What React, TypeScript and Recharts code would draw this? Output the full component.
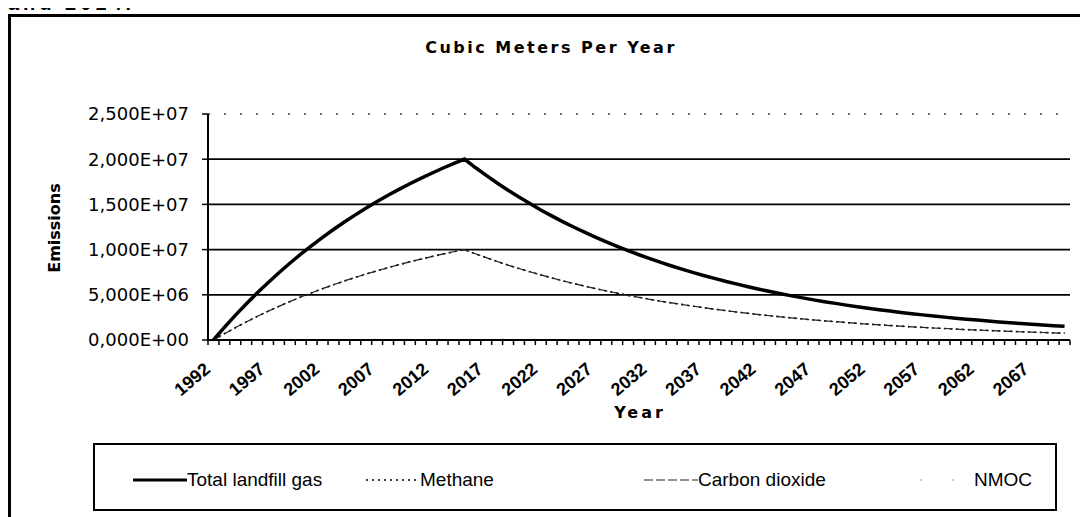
import React from 'react';
import { LineChart, Line, XAxis, YAxis, ReferenceLine, Legend } from 'recharts';

const years = [
  1992, 1993, 1994, 1995, 1996, 1997, 1998, 1999, 2000, 2001,
  2002, 2003, 2004, 2005, 2006, 2007, 2008, 2009, 2010, 2011,
  2012, 2013, 2014, 2015, 2016, 2017, 2018, 2019, 2020, 2021,
  2022, 2023, 2024, 2025, 2026, 2027, 2028, 2029, 2030, 2031,
  2032, 2033, 2034, 2035, 2036, 2037, 2038, 2039, 2040, 2041,
  2042, 2043, 2044, 2045, 2046, 2047, 2048, 2049, 2050, 2051,
  2052, 2053, 2054, 2055, 2056, 2057, 2058, 2059, 2060, 2061,
  2062, 2063, 2064, 2065, 2066, 2067, 2068, 2069, 2070,
];

const xLabelYears = [1992, 1997, 2002, 2007, 2012, 2017, 2022, 2027, 2032, 2037, 2042, 2047, 2052, 2057, 2062, 2067];

const totalGas = [
  0, 1.39e6, 2.72e6, 3.98e6, 5.19e6, 6.34e6, 7.44e6, 8.49e6, 9.49e6, 1.044e7,
  1.136e7, 1.222e7, 1.305e7, 1.384e7, 1.46e7, 1.532e7, 1.601e7, 1.666e7, 1.729e7, 1.788e7,
  1.845e7, 1.9e7, 1.951e7, 2.001e7, 1.908e7, 1.821e7, 1.737e7, 1.657e7, 1.581e7, 1.509e7,
  1.439e7, 1.373e7, 1.31e7, 1.25e7, 1.193e7, 1.138e7, 1.086e7, 1.036e7, 9.88e6, 9.43e6,
  9.0e6, 8.58e6, 8.19e6, 7.81e6, 7.45e6, 7.11e6, 6.79e6, 6.47e6, 6.18e6, 5.89e6,
  5.62e6, 5.36e6, 5.12e6, 4.88e6, 4.66e6, 4.44e6, 4.24e6, 4.05e6, 3.86e6, 3.68e6,
  3.51e6, 3.35e6, 3.2e6, 3.05e6, 2.91e6, 2.78e6, 2.65e6, 2.53e6, 2.41e6, 2.3e6,
  2.2e6, 2.1e6, 2.0e6, 1.91e6, 1.82e6, 1.74e6, 1.66e6, 1.58e6, 1.51e6,
];

const methane = [
  0, 6.95e5, 1.36e6, 1.99e6, 2.6e6, 3.17e6, 3.72e6, 4.25e6, 4.75e6, 5.22e6,
  5.68e6, 6.11e6, 6.53e6, 6.92e6, 7.3e6, 7.66e6, 8.0e6, 8.33e6, 8.65e6, 8.94e6,
  9.23e6, 9.5e6, 9.76e6, 1.0e7, 9.54e6, 9.11e6, 8.69e6, 8.29e6, 7.91e6, 7.55e6,
  7.2e6, 6.87e6, 6.55e6, 6.25e6, 5.97e6, 5.69e6, 5.43e6, 5.18e6, 4.94e6, 4.72e6,
  4.5e6, 4.29e6, 4.1e6, 3.91e6, 3.73e6, 3.56e6, 3.4e6, 3.24e6, 3.09e6, 2.95e6,
  2.81e6, 2.68e6, 2.56e6, 2.44e6, 2.33e6, 2.22e6, 2.12e6, 2.03e6, 1.93e6, 1.84e6,
  1.76e6, 1.68e6, 1.6e6, 1.53e6, 1.46e6, 1.39e6, 1.33e6, 1.27e6, 1.21e6, 1.15e6,
  1.1e6, 1.05e6, 1.0e6, 9.6e5, 9.1e5, 8.7e5, 8.3e5, 7.9e5, 7.6e5,
];

const carbonDioxide = [
  0, 6.95e5, 1.36e6, 1.99e6, 2.6e6, 3.17e6, 3.72e6, 4.25e6, 4.75e6, 5.22e6,
  5.68e6, 6.11e6, 6.53e6, 6.92e6, 7.3e6, 7.66e6, 8.0e6, 8.33e6, 8.65e6, 8.94e6,
  9.23e6, 9.5e6, 9.76e6, 1.0e7, 9.54e6, 9.11e6, 8.69e6, 8.29e6, 7.91e6, 7.55e6,
  7.2e6, 6.87e6, 6.55e6, 6.25e6, 5.97e6, 5.69e6, 5.43e6, 5.18e6, 4.94e6, 4.72e6,
  4.5e6, 4.29e6, 4.1e6, 3.91e6, 3.73e6, 3.56e6, 3.4e6, 3.24e6, 3.09e6, 2.95e6,
  2.81e6, 2.68e6, 2.56e6, 2.44e6, 2.33e6, 2.22e6, 2.12e6, 2.03e6, 1.93e6, 1.84e6,
  1.76e6, 1.68e6, 1.6e6, 1.53e6, 1.46e6, 1.39e6, 1.33e6, 1.27e6, 1.21e6, 1.15e6,
  1.1e6, 1.05e6, 1.0e6, 9.6e5, 9.1e5, 8.7e5, 8.3e5, 7.9e5, 7.6e5,
];

const nmoc = [
  0, 5.6e3, 1.09e4, 1.59e4, 2.08e4, 2.54e4, 2.98e4, 3.4e4, 3.8e4, 4.18e4,
  4.54e4, 4.89e4, 5.22e4, 5.54e4, 5.84e4, 6.13e4, 6.4e4, 6.66e4, 6.91e4, 7.15e4,
  7.38e4, 7.6e4, 7.8e4, 8.0e4, 7.63e4, 7.28e4, 6.95e4, 6.63e4, 6.32e4, 6.04e4,
  5.76e4, 5.49e4, 5.24e4, 5.0e4, 4.77e4, 4.55e4, 4.34e4, 4.14e4, 3.95e4, 3.77e4,
  3.6e4, 3.43e4, 3.28e4, 3.12e4, 2.98e4, 2.84e4, 2.72e4, 2.59e4, 2.47e4, 2.36e4,
  2.25e4, 2.14e4, 2.05e4, 1.95e4, 1.86e4, 1.78e4, 1.7e4, 1.62e4, 1.54e4, 1.47e4,
  1.4e4, 1.34e4, 1.28e4, 1.22e4, 1.16e4, 1.11e4, 1.06e4, 1.01e4, 9.6e3, 9.2e3,
  8.8e3, 8.4e3, 8.0e3, 7.6e3, 7.3e3, 7.0e3, 6.6e3, 6.3e3, 6.0e3,
];

const yTicks = [0, 5e6, 1e7, 1.5e7, 2e7, 2.5e7];
const yTickLabels = ['0,000E+00', '5,000E+06', '1,000E+07', '1,500E+07', '2,000E+07', '2,500E+07'];

const seriesNames = ['Total landfill gas', 'Methane', 'Carbon dioxide', 'NMOC'];

const data = years.map((year, i) => ({
  year,
  total: totalGas[i],
  methane: methane[i],
  co2: carbonDioxide[i],
  nmoc: nmoc[i],
}));

const series = [
  { key: 'total', name: seriesNames[0], stroke: '#000', width: 3.5, dash: undefined as string | undefined },
  { key: 'methane', name: seriesNames[1], stroke: '#000', width: 1.6, dash: '2 4' },
  { key: 'co2', name: seriesNames[2], stroke: '#222', width: 1.2, dash: '9 3' },
  { key: 'nmoc', name: seriesNames[3], stroke: '#999', width: 1.2, dash: '2 30' },
];

const legendLefts = [40, 273, 551, 827];

const W = 1080;
const H = 509;
const HALF_STEP = 5.45;

const XTick = (props: any) => {
  const { x, y, payload } = props;
  const v = payload?.value;
  const isLast = v === years[years.length - 1];
  const lx = x - 2;
  const ly = y + 31;
  return (
    <g>
      <line x1={x - HALF_STEP} y1={y} x2={x - HALF_STEP} y2={y + 5} stroke="#000" strokeWidth={1.5} />
      {isLast && <line x1={x + HALF_STEP} y1={y} x2={x + HALF_STEP} y2={y + 5} stroke="#000" strokeWidth={1.5} />}
      {xLabelYears.includes(v) && (
        <text
          x={lx}
          y={ly}
          transform={`rotate(-40, ${lx}, ${ly})`}
          textAnchor="end"
          fontFamily='"Liberation Sans", Arial, sans-serif'
          fontWeight="bold"
          fontSize={18}
          fill="#000"
        >
          {v}
        </text>
      )}
    </g>
  );
};

const LegendBox = () => (
  <div
    style={{
      position: 'relative',
      width: 964,
      height: 68,
      boxSizing: 'border-box',
      border: '2px solid #000',
      background: '#fff',
      fontFamily: '"Liberation Sans", Arial, sans-serif',
      fontSize: 19,
      color: '#000',
    }}
  >
    {series.map((s, i) => (
      <div
        key={s.key}
        style={{
          position: 'absolute',
          left: legendLefts[i] - 2,
          top: 24,
          height: 22,
          display: 'flex',
          alignItems: 'center',
          whiteSpace: 'nowrap',
        }}
      >
        <svg width={54} height={10} style={{ display: 'block' }}>
          <line x1={0} y1={5} x2={54} y2={5} stroke={s.stroke} strokeWidth={s.key === 'total' ? 3 : s.width} strokeDasharray={s.dash} />
        </svg>
        <span>{s.name}</span>
      </div>
    ))}
  </div>
);

export default function App() {
  return (
    <div style={{ position: 'relative' }}>
      <div style={{ position: 'relative', width: W, height: H, overflow: 'hidden', background: '#fff' }}>
        <div
          style={{
            position: 'absolute',
            left: 0,
            top: 6,
            width: 1300,
            height: 700,
            borderLeft: '3px solid #000',
            borderTop: '3px solid #000',
          }}
        />
        <div
          style={{
            position: 'absolute',
            left: 543,
            top: 40,
            transform: 'translate(-50%, -50%)',
            fontFamily: '"DejaVu Sans", sans-serif',
            fontWeight: 'bold',
            fontSize: 16,
            letterSpacing: 2.5,
            whiteSpace: 'nowrap',
            lineHeight: '16px',
          }}
        >
          Cubic Meters Per Year
        </div>
        <div
          style={{
            position: 'absolute',
            left: 47,
            top: 220,
            transform: 'translate(-50%, -50%) rotate(-90deg)',
            fontFamily: '"DejaVu Sans", sans-serif',
            fontWeight: 'bold',
            fontSize: 16,
            whiteSpace: 'nowrap',
            lineHeight: '16px',
          }}
        >
          Emissions
        </div>
        <div
          style={{
            position: 'absolute',
            left: 632,
            top: 405,
            transform: 'translate(-50%, -50%)',
            fontFamily: '"DejaVu Sans", sans-serif',
            fontWeight: 'bold',
            fontSize: 16,
            letterSpacing: 3,
            whiteSpace: 'nowrap',
            lineHeight: '16px',
          }}
        >
          Year
        </div>
        <div style={{ position: 'absolute', left: 0, top: 0 }}>
          <LineChart width={W} height={H} data={data} margin={{ top: 106, right: 18, bottom: 117, left: 0 }}>
            <XAxis
              dataKey="year"
              interval={0}
              padding={{ left: HALF_STEP, right: HALF_STEP }}
              height={60}
              tickLine={false}
              tickSize={0}
              tickMargin={0}
              tick={<XTick />}
              axisLine={{ stroke: '#000', strokeWidth: 2 }}
            />
            <YAxis
              yAxisId="left"
              width={200}
              domain={[0, 2.5e7]}
              ticks={yTicks}
              interval={0}
              tickSize={6}
              tickMargin={13}
              tickFormatter={(v: number) => yTickLabels[yTicks.indexOf(v)]}
              tick={{ fill: '#000', fontSize: 18, fontFamily: '"DejaVu Sans", sans-serif' }}
              tickLine={{ stroke: '#000', strokeWidth: 1.5 }}
              axisLine={{ stroke: '#000', strokeWidth: 2 }}
            />
            <YAxis
              yAxisId="right"
              orientation="right"
              width={0}
              domain={[0, 2.5e7]}
              tick={false}
              tickLine={false}
              axisLine={{ stroke: '#333', strokeWidth: 1.5, strokeDasharray: '4 8' }}
            />
            {yTicks.slice(1).map((v) => (
              <ReferenceLine
                key={v}
                yAxisId="left"
                y={v}
                stroke={v === yTicks[yTicks.length - 1] ? '#444' : '#000'}
                strokeWidth={v === yTicks[yTicks.length - 1] ? 1.5 : 1.8}
                strokeDasharray={v === yTicks[yTicks.length - 1] ? '2 14' : undefined}
              />
            ))}
            {series.map((s) => (
              <Line
                key={s.key}
                yAxisId="left"
                type="linear"
                dataKey={s.key}
                name={s.name}
                stroke={s.stroke}
                strokeWidth={s.width}
                strokeDasharray={s.dash}
                dot={false}
                activeDot={false}
                isAnimationActive={false}
              />
            ))}
            <Legend
              layout="horizontal"
              verticalAlign="middle"
              align="center"
              wrapperStyle={{ left: 85, top: 435, width: 964, height: 68 }}
              content={() => <LegendBox />}
            />
          </LineChart>
        </div>
      </div>
      <div
        style={{
          position: 'absolute',
          left: 0,
          top: -15,
          zIndex: 2,
          fontFamily: '"Liberation Sans", Arial, sans-serif',
          fontWeight: 'bold',
          fontSize: 20,
          lineHeight: '20px',
          letterSpacing: 4,
          whiteSpace: 'nowrap',
          color: '#000',
        }}
      >
        and 2014.
      </div>
    </div>
  );
}
